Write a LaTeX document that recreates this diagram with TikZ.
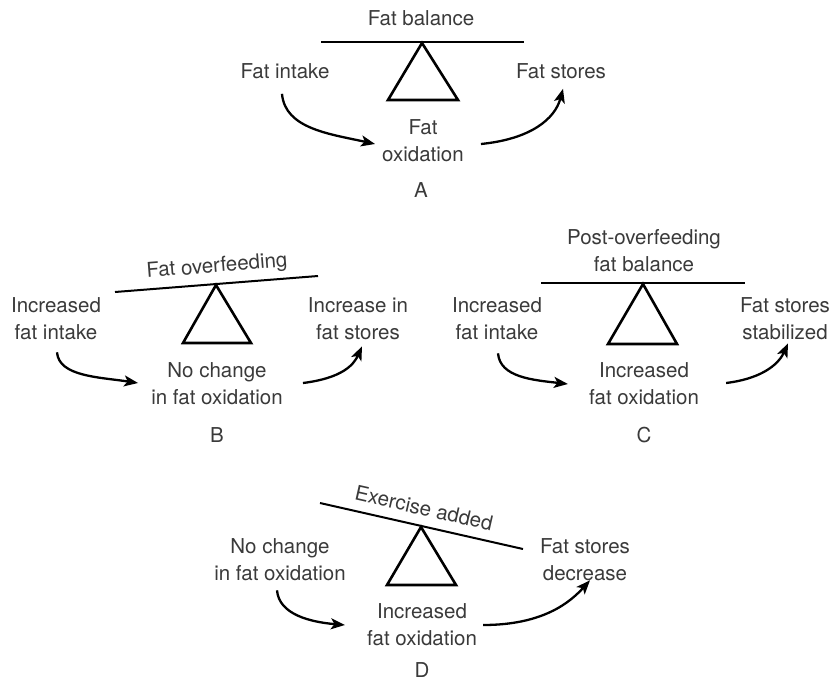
\documentclass[tikz,border=0pt]{standalone}
\usepackage{fontspec}
\setmainfont{TeX Gyre Heros}
\usetikzlibrary{arrows.meta}
\definecolor{txt}{HTML}{3A3A3A}
\tikzset{
  lbl/.style={inner sep=0pt, align=center, text=txt, font=\fontsize{20.5}{27}\selectfont},
  beam/.style={line width=2pt, black},
  tri/.style={line width=2.6pt, black, line join=miter},
  arr/.style={line width=2.3pt, black, -{Stealth[length=14pt,width=11pt,inset=3.5pt]}}
}
\begin{document}
\begin{tikzpicture}[x=1pt,y=-1pt]
\useasboundingbox (0,0) rectangle (835,681);
% ---------- A ----------
\node[lbl] (tA) at (421,18) {Fat balance};
\draw[beam] (321,42) -- (524,42);
\draw[tri] (422,43) -- (388,100) -- (458,100) -- cycle;
\node[lbl] (fiA) at (285,71) {Fat intake};
\node[lbl] (fsA) at (561,71) {Fat stores};
\node[lbl] (foA) at (423,141) {Fat\\oxidation};
\node[lbl] (lA) at (421,190) {A};
\draw[arr] ([shift={(-3,15)}]fiA.south) .. controls +(3,35) and +(-45,-10) .. ([shift={(-7,3)}]foA.west);
\draw[arr] ([shift={(17,3)}]foA.east) .. controls +(50,-5) and +(-8,30) .. ([shift={(2,10)}]fsA.south);
% ---------- B ----------
\node[lbl, rotate=4.5] (tB) at (217,267) {Fat overfeeding};
\draw[beam] (115,292) -- (318,276);
\draw[tri] (216,285) -- (183,343) -- (251,343) -- cycle;
\node[lbl] (fiB) at (56,319) {Increased\\fat intake};
\node[lbl] (fsB) at (358,319) {Increase in\\fat stores};
\node[lbl] (foB) at (217,384) {No change\\in fat oxidation};
\node[lbl] (lB) at (217,435) {B};
\draw[arr] ([shift={(1,12)}]fiB.south) .. controls +(2,24) and +(-40,-6) .. ([shift={(-13,-1)}]foB.west);
\draw[arr] ([shift={(20,-1)}]foB.east) .. controls +(40,-5) and +(-8,18) .. ([shift={(4,6)}]fsB.south);
% ---------- C ----------
\node[lbl] (tC) at (644,251) {Post-overfeeding\\fat balance};
\draw[beam] (541,283) -- (745,283);
\draw[tri] (643,284) -- (608,344) -- (677,344) -- cycle;
\node[lbl] (fiC) at (497,319) {Increased\\fat intake};
\node[lbl] (fsC) at (785,319) {Fat stores\\stabilized};
\node[lbl] (foC) at (644,384) {Increased\\fat oxidation};
\node[lbl] (lC) at (644,435) {C};
\draw[arr] ([shift={(1,13)}]fiC.south) .. controls +(2,24) and +(-35,-4) .. ([shift={(-21,0)}]foC.west);
\draw[arr] ([shift={(27,-1)}]foC.east) .. controls +(40,-5) and +(-8,18) .. ([shift={(3,3)}]fsC.south);
% ---------- D ----------
\node[lbl, rotate=-12.8] (tD) at (424,508) {Exercise added};
\draw[beam] (320,503) -- (523,549);
\draw[tri] (421,527) -- (387,585) -- (456,585) -- cycle;
\node[lbl] (fiD) at (280,560) {No change\\in fat oxidation};
\node[lbl] (fsD) at (585,560) {Fat stores\\decrease};
\node[lbl] (foD) at (422,625) {Increased\\fat oxidation};
\node[lbl] (lD) at (422,670) {D};
\draw[arr] ([shift={(-3,9)}]fiD.south) .. controls +(2,24) and +(-35,-3) .. ([shift={(-22,0)}]foD.west);
\draw[arr] ([shift={(6,0)}]foD.east) .. controls +(60,0) and +(-20,22) .. ([shift={(5,-1)}]fsD.south);
\end{tikzpicture}
\end{document}
